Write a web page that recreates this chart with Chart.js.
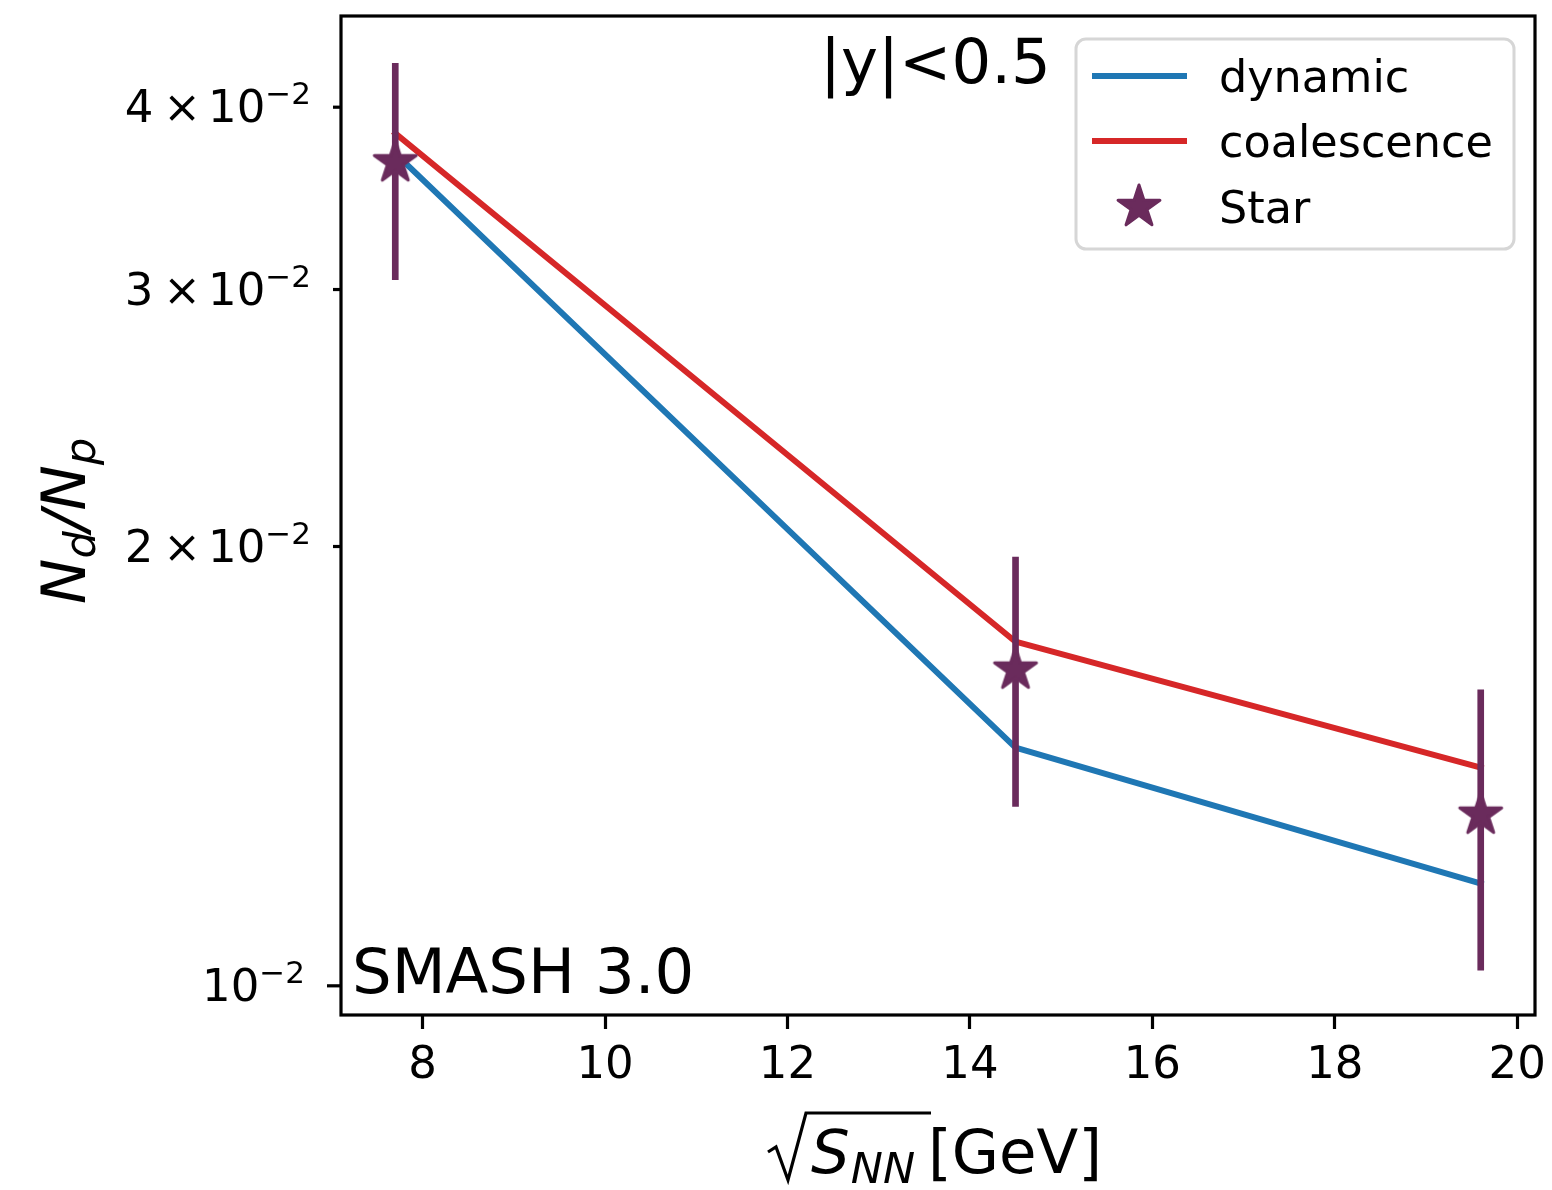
<!DOCTYPE html>
<html>
<head>
<meta charset="utf-8">
<script src="https://cdn.jsdelivr.net/npm/chart.js@4/dist/chart.umd.min.js"></script>
<style>
  html, body { margin: 0; padding: 0; background: #fff; }
  #wrap { width: 1552px; height: 1190px; position: relative; }
</style>
</head>
<body>
<div id="wrap"><canvas id="c"></canvas></div>
<script>
// Collision energies (GeV) and deuteron-to-proton yield ratios at mid-rapidity
const energies = [7.7, 14.5, 19.6];
const dynamicRatio = [0.03719, 0.01456, 0.01175];
const coalescenceRatio = [0.03839, 0.01721, 0.01411];
const starRatio = [0.03667, 0.01647, 0.01310];
const starError = [0.0062, 0.0032, 0.00285];

// Axis ticks
const xTicks = [8, 10, 12, 14, 16, 18, 20];
const yTicks = [0.01, 0.02, 0.03, 0.04];
const yTickMantissa = ['', '2', '3', '4'];
const yTickBase = '10';
const yTickExponent = '−2';

const seriesNames = ['dynamic', 'coalescence', 'Star'];

const BLUE = '#1f77b4';
const RED = '#d62728';
const PURPLE = '#6a2b5c';
const FONT = 'DejaVu Sans';
const TICK_PX = 45;
const SUP_PX = 31;

// Filled five-pointed star used as the point marker
function makeStar(R, color) {
  const size = Math.ceil(2 * R + 8);
  const c = document.createElement('canvas');
  c.width = size; c.height = size;
  const g = c.getContext('2d');
  const cx = size / 2, cy = size / 2, r = R * 0.381966;
  g.beginPath();
  for (let i = 0; i < 10; i++) {
    const a = -Math.PI / 2 + i * Math.PI / 5;
    const rr = i % 2 ? r : R;
    g.lineTo(cx + rr * Math.cos(a), cy + rr * Math.sin(a));
  }
  g.closePath();
  g.fillStyle = color; g.fill();
  g.lineJoin = 'round'; g.lineWidth = 3; g.strokeStyle = color; g.stroke();
  return c;
}
const starImg = makeStar(22, PURPLE);

const pts = ys => energies.map((x, i) => ({ x, y: ys[i] }));

// Frame, y ticks with exponent labels, annotations, axis titles and legend
const decor = {
  id: 'decor',
  afterDatasetsDraw(chart) {
    const { ctx, chartArea: a, scales: { y } } = chart;
    ctx.save();
    ctx.strokeStyle = '#000';
    ctx.lineWidth = 3.2;
    ctx.strokeRect(a.left, a.top, a.right - a.left, a.bottom - a.top);

    ctx.fillStyle = '#000';
    ctx.textAlign = 'left';
    ctx.textBaseline = 'alphabetic';
    yTicks.forEach((v, i) => {
      const py = y.getPixelForValue(v);
      const major = Math.abs(Math.log10(v) - Math.round(Math.log10(v))) < 1e-9;
      const len = major ? 14 : 8;
      ctx.beginPath();
      ctx.moveTo(a.left - len, py); ctx.lineTo(a.left, py);
      ctx.lineWidth = 3.2; ctx.stroke();

      // pieces: mantissa, times sign, base, exponent (superscript)
      const pieces = [];
      if (yTickMantissa[i]) {
        pieces.push({ t: yTickMantissa[i], px: TICK_PX, gap: 10, dy: 15 });
        pieces.push({ t: '×', px: TICK_PX, gap: 7, dy: 15 });
      }
      pieces.push({ t: yTickBase, px: TICK_PX, gap: 0, dy: 15 });
      pieces.push({ t: yTickExponent, px: SUP_PX, gap: 0, dy: -3 });
      let total = 0;
      pieces.forEach(p => {
        ctx.font = `${p.px}px "${FONT}"`;
        p.w = ctx.measureText(p.t).width;
        total += p.w + p.gap;
      });
      const right = a.left - len - 22;
      let xx = right - total;
      pieces.forEach(p => {
        ctx.font = `${p.px}px "${FONT}"`;
        ctx.fillText(p.t, xx, py + p.dy);
        xx += p.w + p.gap;
      });
    });
    ctx.restore();
  },
  afterDraw(chart) {
    const { ctx } = chart;
    ctx.save();
    ctx.fillStyle = '#000';
    ctx.textAlign = 'left';
    ctx.textBaseline = 'alphabetic';

    // In-plot annotations
    ctx.font = `62.5px "${FONT}"`;
    ctx.fillText('|y|<0.5', 820, 83);
    ctx.fillText('SMASH 3.0', 352, 993);

    // x-axis title: sqrt(S_NN) [GeV]
    ctx.strokeStyle = '#000';
    ctx.lineWidth = 3.2;
    ctx.lineJoin = 'miter';
    ctx.beginPath();
    ctx.moveTo(768, 1152);
    ctx.lineTo(776, 1147);
    ctx.lineTo(788, 1180);
    ctx.lineTo(806, 1113);
    ctx.lineTo(931, 1113);
    ctx.stroke();
    ctx.font = `italic 61px "${FONT}"`;
    ctx.fillText('S', 811, 1173);
    const wS = ctx.measureText('S').width;
    ctx.font = `italic 43px "${FONT}"`;
    ctx.fillText('NN', 811 + wS + 1, 1183);
    ctx.font = `61px "${FONT}"`;
    ctx.fillText('[GeV]', 928, 1173);

    // y-axis title: N_d / N_p (rotated)
    ctx.translate(85, 521);
    ctx.rotate(-Math.PI / 2);
    const parts = [
      { t: 'N', f: `italic 61px "${FONT}"`, dy: 0 },
      { t: 'd', f: `italic 43px "${FONT}"`, dy: 10 },
      { t: '/', f: `italic 61px "${FONT}"`, dy: 0 },
      { t: 'N', f: `italic 61px "${FONT}"`, dy: 0 },
      { t: 'p', f: `italic 43px "${FONT}"`, dy: 10 }
    ];
    let total = 0;
    parts.forEach(p => { ctx.font = p.f; p.w = ctx.measureText(p.t).width; total += p.w; });
    let xx = -total / 2;
    parts.forEach(p => { ctx.font = p.f; ctx.fillText(p.t, xx, p.dy); xx += p.w; });
    ctx.restore();

    // Legend
    ctx.save();
    const bx = 1076, by = 39, bw = 438, bh = 210, rad = 10;
    ctx.beginPath();
    ctx.roundRect(bx, by, bw, bh, rad);
    ctx.fillStyle = 'rgba(255,255,255,0.8)';
    ctx.fill();
    ctx.strokeStyle = '#d6d6d6';
    ctx.lineWidth = 3;
    ctx.stroke();

    const rows = [76, 141, 207];
    ctx.lineWidth = 6;
    ctx.lineCap = 'butt';
    [[BLUE, rows[0]], [RED, rows[1]]].forEach(([c, yy]) => {
      ctx.strokeStyle = c;
      ctx.beginPath(); ctx.moveTo(1092, yy); ctx.lineTo(1187, yy); ctx.stroke();
    });
    ctx.drawImage(starImg, 1139 - starImg.width / 2, rows[2] - starImg.height / 2);
    ctx.fillStyle = '#000';
    ctx.font = `44.5px "${FONT}"`;
    ctx.textAlign = 'left';
    ctx.textBaseline = 'alphabetic';
    ctx.fillText(seriesNames[0], 1219, 92);
    ctx.fillText(seriesNames[1], 1219, 157);
    ctx.fillText(seriesNames[2], 1219, 223);
    ctx.restore();
  }
};

new Chart(document.getElementById('c'), {
  type: 'scatter',
  data: {
    datasets: [
      {
        type: 'scatter', label: seriesNames[2], data: pts(starRatio),
        pointStyle: starImg, pointRadius: 12, showLine: false, order: 0
      },
      {
        type: 'bar', label: 'Star error',
        data: energies.map((x, i) => ({ x, y: [starRatio[i] - starError[i], starRatio[i] + starError[i]] })),
        backgroundColor: PURPLE, borderWidth: 0, barThickness: 6, grouped: false, order: 1
      },
      {
        type: 'line', label: seriesNames[1], data: pts(coalescenceRatio),
        borderColor: RED, borderWidth: 6, pointRadius: 0, tension: 0, fill: false,
        borderCapStyle: 'square', borderJoinStyle: 'round', order: 2
      },
      {
        type: 'line', label: seriesNames[0], data: pts(dynamicRatio),
        borderColor: BLUE, borderWidth: 6, pointRadius: 0, tension: 0, fill: false,
        borderCapStyle: 'square', borderJoinStyle: 'round', order: 3
      }
    ]
  },
  options: {
    responsive: true,
    maintainAspectRatio: false,
    animation: false,
    events: [],
    layout: { padding: { top: 16, right: 17, bottom: 0, left: 0 } },
    plugins: { legend: { display: false }, tooltip: { enabled: false } },
    scales: {
      x: {
        type: 'linear', min: 7.105, max: 20.195, offset: false,
        afterBuildTicks: s => { s.ticks = xTicks.map(v => ({ value: v })); },
        afterFit: s => { s.height = 175; s.paddingLeft = 0; s.paddingRight = 0; },
        grid: { display: true, drawOnChartArea: false, drawTicks: true, tickLength: 14,
                tickWidth: 3.2, tickColor: '#000', offset: false },
        border: { display: false },
        ticks: { color: '#000', font: { family: FONT, size: TICK_PX, lineHeight: 1 }, padding: 15,
                 maxRotation: 0, autoSkip: false, callback: v => String(v) }
      },
      y: {
        type: 'logarithmic', min: 0.00955, max: 0.04619,
        afterBuildTicks: s => { s.ticks = yTicks.map(v => ({ value: v })); },
        afterFit: s => { s.width = 341; s.paddingTop = 0; s.paddingBottom = 0; },
        grid: { display: false },
        border: { display: false },
        ticks: { display: false }
      }
    }
  },
  plugins: [decor]
});
</script>
</body>
</html>
